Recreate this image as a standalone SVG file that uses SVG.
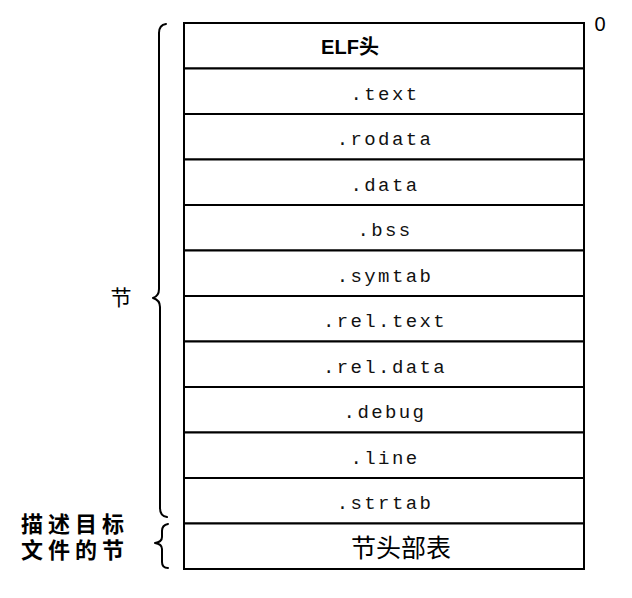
<svg xmlns="http://www.w3.org/2000/svg" width="632" height="598" viewBox="0 0 632 598">
  <style>
    .cell { fill: #fff; stroke: #000; stroke-width: 2; }
    .mono { font-family: "Liberation Mono", "DejaVu Sans Mono", monospace; font-size: 19px; letter-spacing: 2.4px; fill: #111; text-anchor: middle; }
    .cjk { font-family: "Noto Sans CJK SC", sans-serif; fill: #000; }
    .side { font-family: "Liberation Sans", "Noto Sans CJK SC", sans-serif; font-size: 22px; font-weight: bold; letter-spacing: 5px; text-anchor: middle; }
    .brace { fill: none; stroke: #000; stroke-width: 2; stroke-linecap: round; stroke-linejoin: round; }
  </style>

  <!-- ELF object file layout: stacked sections -->
  <g id="elf-header">
    <rect class="cell" x="184" y="23" width="400" height="45.5"/>
    <text x="350" y="54" font-family="Liberation Sans, Noto Sans CJK SC, sans-serif" font-weight="bold" font-size="20" text-anchor="middle">ELF头</text>
  </g>
  <g id="sec-text">
    <rect class="cell" x="184" y="68.5" width="400" height="45.5"/>
    <text class="mono" x="385" y="100">.text</text>
  </g>
  <g id="sec-rodata">
    <rect class="cell" x="184" y="114" width="400" height="45.5"/>
    <text class="mono" x="385" y="145">.rodata</text>
  </g>
  <g id="sec-data">
    <rect class="cell" x="184" y="159.5" width="400" height="45.5"/>
    <text class="mono" x="385" y="191">.data</text>
  </g>
  <g id="sec-bss">
    <rect class="cell" x="184" y="205" width="400" height="45.5"/>
    <text class="mono" x="385" y="236">.bss</text>
  </g>
  <g id="sec-symtab">
    <rect class="cell" x="184" y="250.5" width="400" height="45.5"/>
    <text class="mono" x="385" y="282">.symtab</text>
  </g>
  <g id="sec-rel-text">
    <rect class="cell" x="184" y="296" width="400" height="45.5"/>
    <text class="mono" x="385" y="327">.rel.text</text>
  </g>
  <g id="sec-rel-data">
    <rect class="cell" x="184" y="341.5" width="400" height="45.5"/>
    <text class="mono" x="385" y="373">.rel.data</text>
  </g>
  <g id="sec-debug">
    <rect class="cell" x="184" y="387" width="400" height="45.5"/>
    <text class="mono" x="385" y="418">.debug</text>
  </g>
  <g id="sec-line">
    <rect class="cell" x="184" y="432.5" width="400" height="45.5"/>
    <text class="mono" x="385" y="464">.line</text>
  </g>
  <g id="sec-strtab">
    <rect class="cell" x="184" y="478" width="400" height="45.5"/>
    <text class="mono" x="385" y="509">.strtab</text>
  </g>
  <g id="section-header-table">
    <rect class="cell" x="184" y="523.5" width="400" height="45.5"/>
    <text class="cjk" x="401" y="557" font-size="25" text-anchor="middle">节头部表</text>
  </g>

  <!-- offset marker -->
  <g id="offset-zero">
    <text x="600" y="31" font-family="Liberation Sans, sans-serif" font-size="20" text-anchor="middle">0</text>
  </g>

  <!-- braces grouping the sections -->
  <g id="connectors">
    <path class="brace" d="M166,24 Q159,25 159,33 L159,289 Q159,296 153,298 Q160,300 160,307 L160,508 Q160,516 167,517"/>
    <path class="brace" d="M168,524 Q162,525 162,531 L162,537 Q162,542 155,543 Q162,544 162,549 L162,562 Q162,568 168,568"/>
  </g>

  <g id="label-sections">
    <text class="cjk" x="121" y="305" font-size="21" text-anchor="middle">节</text>
  </g>
  <g id="label-describe">
    <text class="side" x="75" y="532">描述目标</text>
    <text class="side" x="75" y="558">文件的节</text>
  </g>
</svg>
